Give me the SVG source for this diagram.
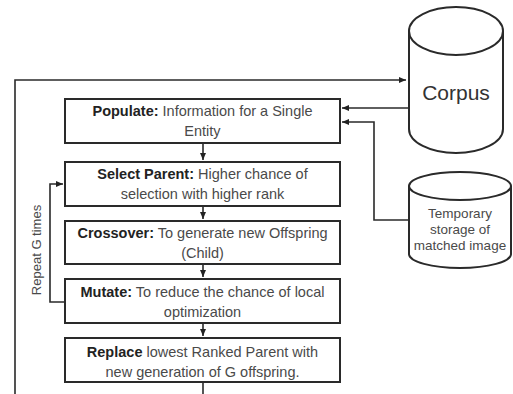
<svg xmlns="http://www.w3.org/2000/svg" width="513" height="394" viewBox="0 0 513 394">
<defs>
<marker id="ah" markerWidth="8" markerHeight="8" refX="7" refY="4" orient="auto" markerUnits="userSpaceOnUse">
<path d="M0,1 L7,4 L0,7 Z" fill="#222"/>
</marker>
<style>
.box{fill:#fff;stroke:#2a2a2a;stroke-width:2}
.cyl{fill:#fff;stroke:#2a2a2a;stroke-width:2}
.ln{fill:none;stroke:#2a2a2a;stroke-width:1.6}
.t{font-family:"Liberation Sans",Arial,sans-serif;font-size:14.5px;fill:#4a4a4a;text-anchor:middle}
.b{font-weight:bold;fill:#222}
</style>
</defs>
<rect width="513" height="394" fill="#fff"/>
<g id="connectors">
<path class="ln" d="M15,394 V80 H406" marker-end="url(#ah)"/>
<path class="ln" d="M408,108 H342" marker-end="url(#ah)"/>
<path class="ln" d="M409,220 H374 V122 H342" marker-end="url(#ah)"/>
<path class="ln" d="M203,143 V160" marker-end="url(#ah)"/>
<path class="ln" d="M203,206 V219" marker-end="url(#ah)"/>
<path class="ln" d="M203,264 V277" marker-end="url(#ah)"/>
<path class="ln" d="M203,323 V336" marker-end="url(#ah)"/>
<path class="ln" d="M203,382 V394"/>
<path class="ln" d="M65,302 H50 V184 H63" marker-end="url(#ah)"/>
<text class="t" transform="translate(41,250) rotate(-90)" style="font-size:13px">Repeat G times</text>
</g>
<g id="corpus">
<path class="cyl" d="M409,31 V129 A47,24 0 0 0 503,129 V31"/>
<ellipse class="cyl" cx="456" cy="31" rx="47" ry="24"/>
<text class="t" x="456" y="100" style="font-size:21px;fill:#333">Corpus</text>
</g>
<g id="temp">
<path class="cyl" d="M409,186 V254 A51,14 0 0 0 511,254 V186"/>
<ellipse class="cyl" cx="460" cy="186" rx="51" ry="14"/>
<text class="t" x="460" y="218" style="font-size:13.5px">Temporary</text>
<text class="t" x="460" y="234" style="font-size:13.5px">storage of</text>
<text class="t" x="460" y="250" style="font-size:13.5px">matched image</text>
</g>
<g id="populate">
<rect class="box" x="65" y="99" width="275" height="44"/>
<text class="t" x="202.5" y="116"><tspan class="b">Populate:</tspan> Information for a Single</text>
<text class="t" x="202.5" y="136">Entity</text>
</g>
<g id="select">
<rect class="box" x="65" y="162" width="275" height="44"/>
<text class="t" x="202.5" y="179"><tspan class="b">Select Parent:</tspan> Higher chance of</text>
<text class="t" x="202.5" y="199">selection with higher rank</text>
</g>
<g id="crossover">
<rect class="box" x="65" y="221" width="275" height="43"/>
<text class="t" x="202.5" y="238"><tspan class="b">Crossover:</tspan>  To generate new Offspring</text>
<text class="t" x="202.5" y="258">(Child)</text>
</g>
<g id="mutate">
<rect class="box" x="65" y="279" width="275" height="44"/>
<text class="t" x="202.5" y="297"><tspan class="b">Mutate:</tspan> To reduce the chance of local</text>
<text class="t" x="202.5" y="317">optimization</text>
</g>
<g id="replace">
<rect class="box" x="65" y="338" width="275" height="44"/>
<text class="t" x="202.5" y="357"><tspan class="b">Replace</tspan> lowest Ranked Parent with</text>
<text class="t" x="202.5" y="377">new generation  of G offspring.</text>
</g>
</svg>
